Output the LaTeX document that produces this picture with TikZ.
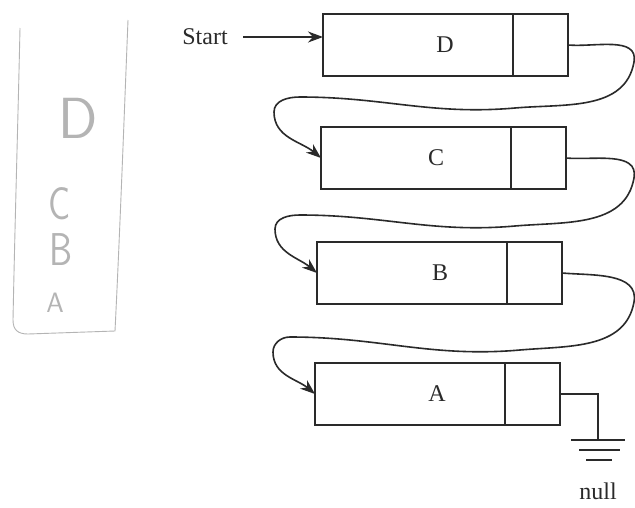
\documentclass[tikz,border=0pt]{standalone}
\usepackage{fontspec}
\setmainfont{Liberation Serif}
\usetikzlibrary{arrows.meta,positioning}
\definecolor{ink}{HTML}{2A2A2A}
\definecolor{pencil}{HTML}{B4B4B4}
\tikzset{
  datacell/.style={draw=ink, line width=1.6pt, minimum height=62pt, minimum width=190pt, inner sep=0pt, outer sep=0pt},
  ptrcell/.style={draw=ink, line width=1.6pt, minimum height=62pt, minimum width=55pt, inner sep=0pt, outer sep=0pt},
  txt/.style={font=\fontsize{24}{28}\selectfont, text=ink},
  link/.style={draw=ink, line width=1.6pt, -{Stealth[length=15pt,width=11pt]}},
  wire/.style={draw=ink, line width=1.6pt},
  hand/.style={text=pencil, font=\sffamily},
  sheet/.style={draw=pencil, line width=0.9pt}
}
\begin{document}
\begin{tikzpicture}[x=1pt,y=-1pt]
\useasboundingbox (0,0) rectangle (635,507);
\fill[white] (0,0) rectangle (635,507);

% hand-written stack on a slip of paper
\draw[sheet] (128,20) .. controls (124,120) and (120,230) .. (115,331)
  -- (28,334) .. controls (18,334) and (13,330) .. (13,320)
  .. controls (15,220) and (18,120) .. (20,28);
\node[hand, font=\sffamily\fontsize{58}{58}\selectfont] (hD) at (78,118) {D};
\node[hand, font=\sffamily\fontsize{46}{46}\selectfont, xscale=0.8] (hC) at (60,204) {C};
\node[hand, font=\sffamily\fontsize{46}{46}\selectfont, xscale=0.8] (hB) at (61,250) {B};
\node[hand, font=\sffamily\fontsize{28}{28}\selectfont] (hA) at (55,303) {A};

% list nodes
\node[datacell, label={[txt,xshift=27pt]center:D}] (D) at (418,45) {};
\node[ptrcell, right=0pt of D] (Dp) {};
\node[datacell, label={[txt,xshift=20pt]center:C}] (C) at (416,158) {};
\node[ptrcell, right=0pt of C] (Cp) {};
\node[datacell, label={[txt,xshift=28pt]center:B}] (B) at (412,273) {};
\node[ptrcell, right=0pt of B] (Bp) {};
\node[datacell, label={[txt,xshift=27pt]center:A}] (A) at (410,394) {};
\node[ptrcell, right=0pt of A] (Ap) {};

% head pointer
\node[txt, anchor=base] (start) at (205,44) {Start};
\draw[link] (start.east |- 0,37) ++(12,0) -- (D.west |- 0,37);

% next pointers
\draw[link] (Dp.east) to[out=-5,in=80] (634,62) to[out=260,in=5] (515,108)
  to[out=185,in=0] (300,97) to[out=180,in=90] (274,112) to[out=270,in=140] (C.west);
\draw[link] (Cp.east) to[out=-5,in=80] (634,178) to[out=260,in=5] (515,226)
  to[out=185,in=0] (300,215) to[out=180,in=90] (275,229) to[out=270,in=140] (B.west);
\draw[link] (Bp.east) to[out=-5,in=80] (634,302) to[out=260,in=5] (520,350)
  to[out=185,in=0] (290,337) to[out=180,in=90] (273,352) to[out=270,in=140] (A.west);

% null terminator
\coordinate (gnd) at (598,440);
\draw[wire] (Ap.east) -| (gnd);
\draw[wire] (571,440) -- (625,440);
\draw[wire] (579,450) -- (620,450);
\draw[wire] (586,460) -- (612,460);
\node[txt, anchor=base] (null) at (598,499) {null};
\end{tikzpicture}
\end{document}
